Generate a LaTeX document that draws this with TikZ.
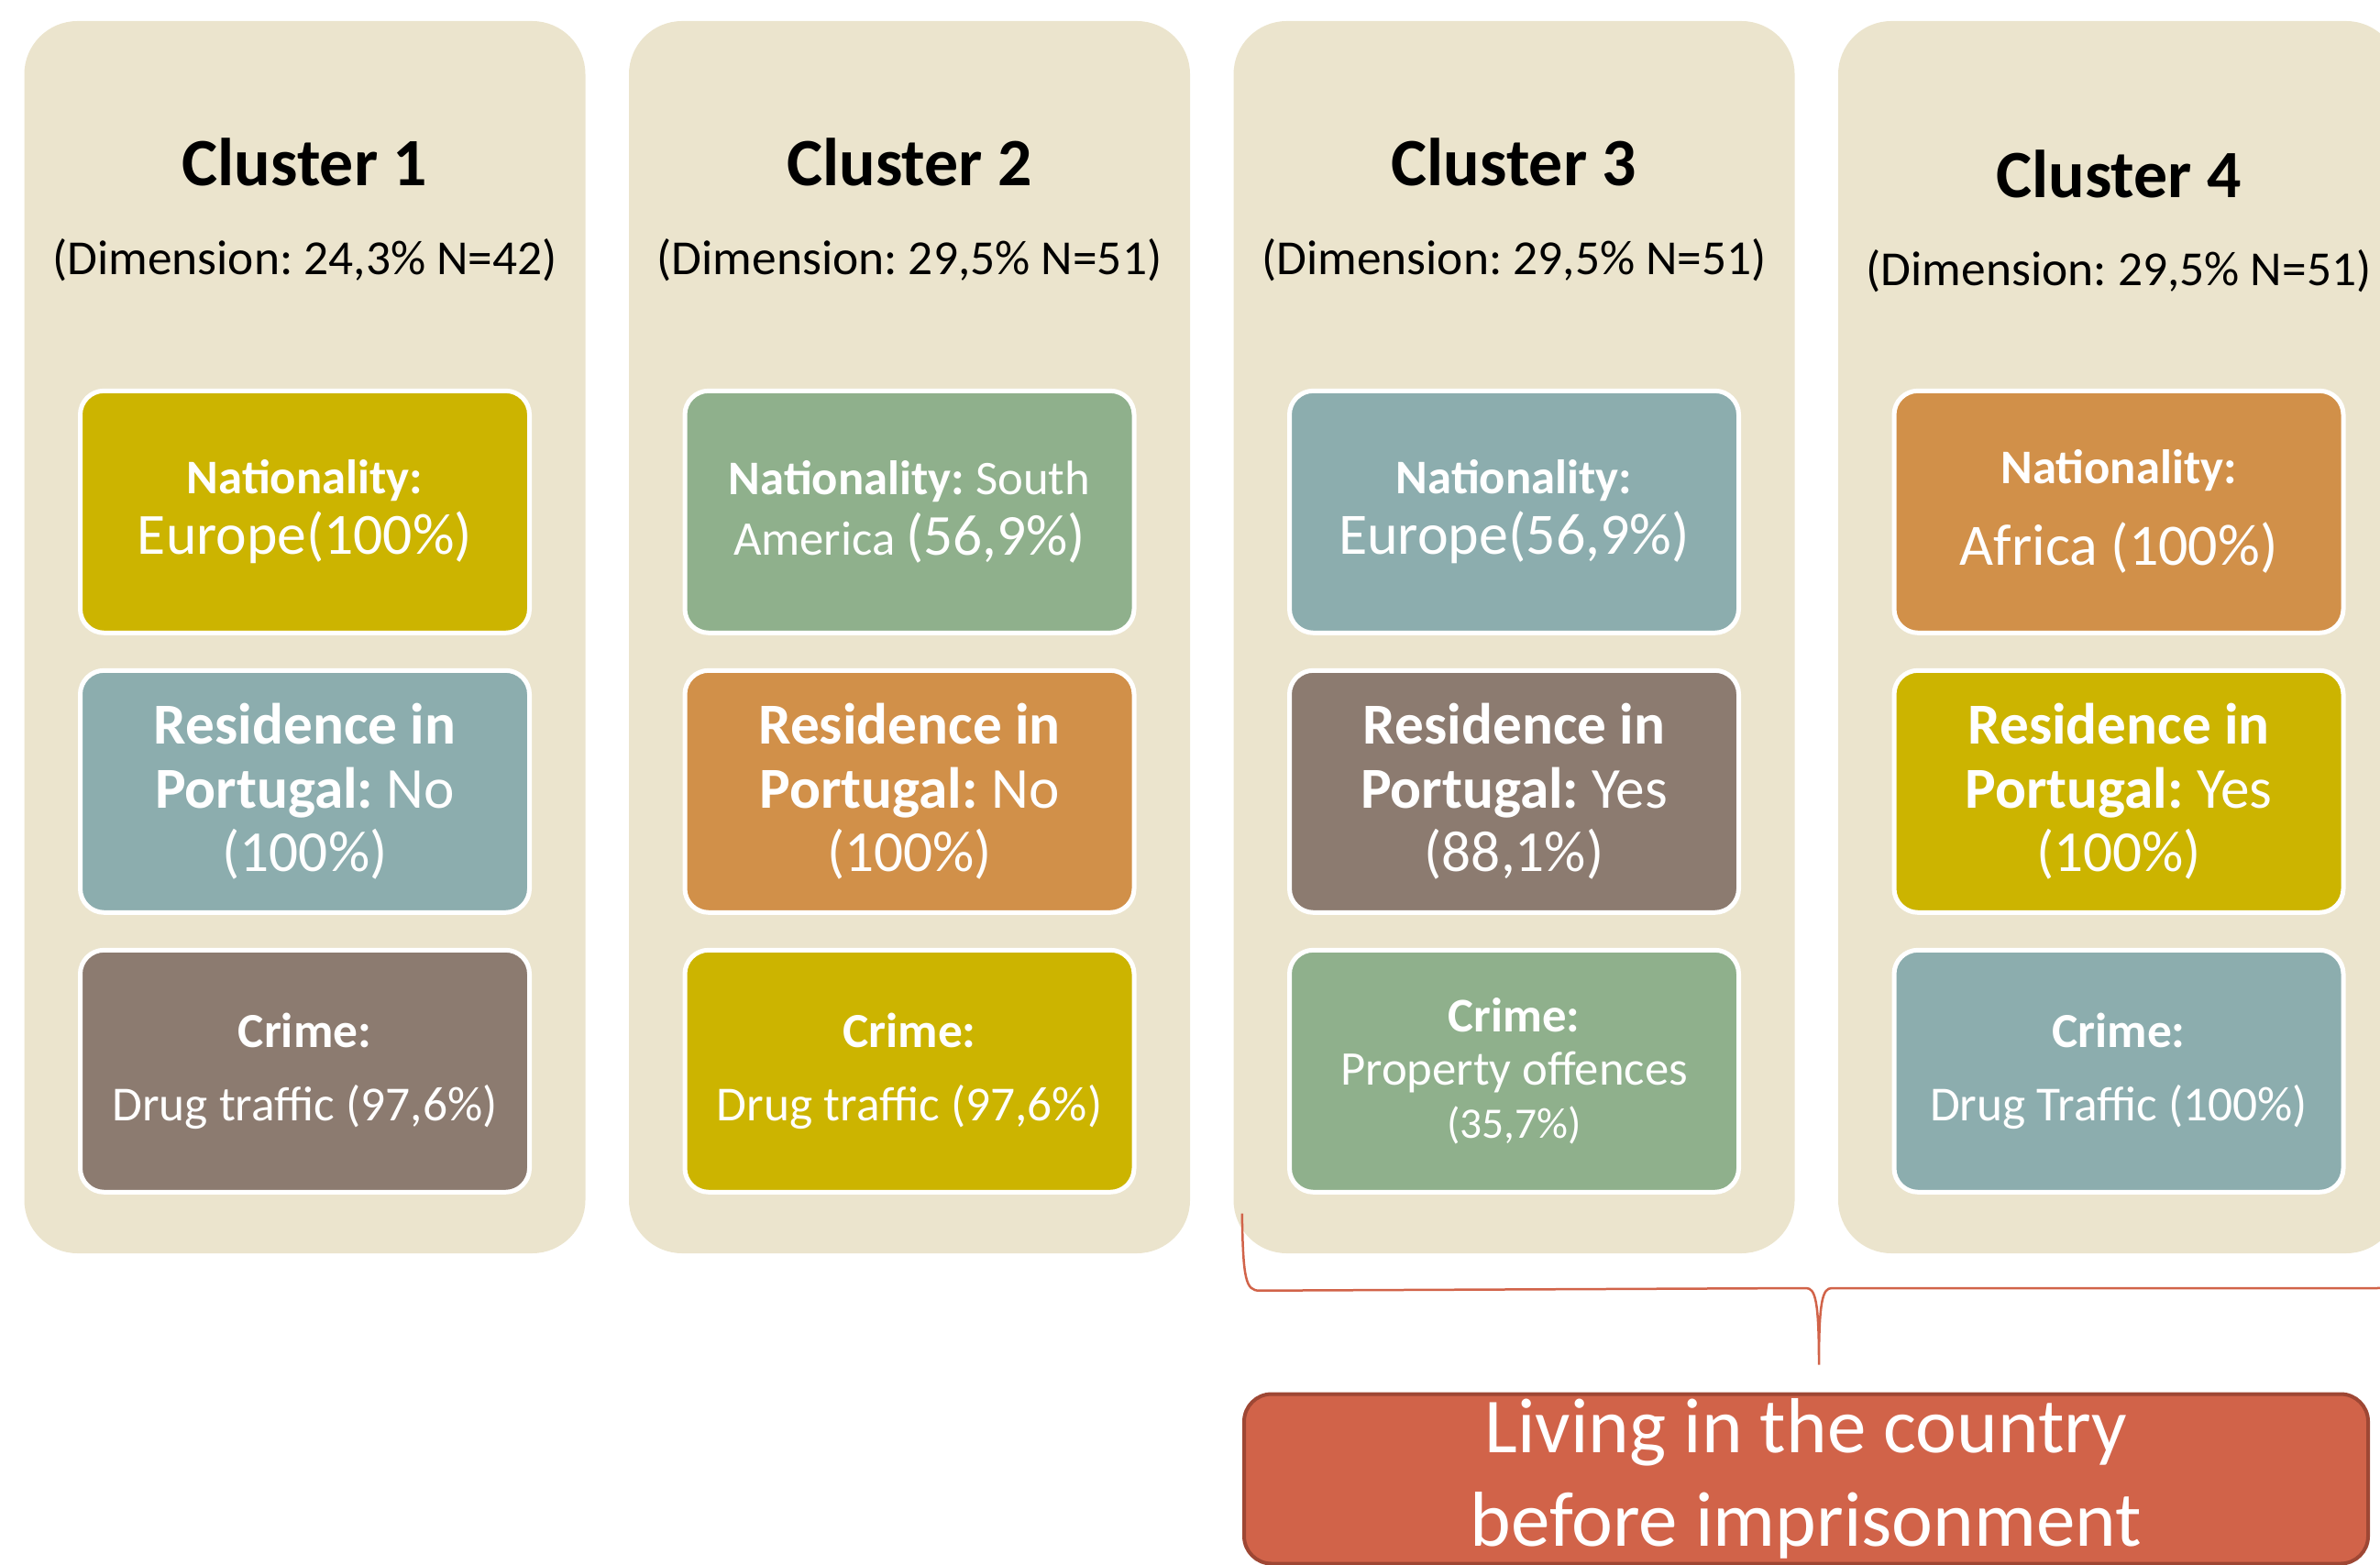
\documentclass[tikz,border=0pt]{standalone}
\usepackage{fontspec}
\setmainfont{Carlito}
\frenchspacing
\usepackage{tikz}
\usetikzlibrary{calc}
\definecolor{paper}{HTML}{EBE4CD}
\definecolor{civicred}{HTML}{D16349}
\definecolor{civicolive}{HTML}{CCB400}
\definecolor{civicblue}{HTML}{8CADAE}
\definecolor{civicbrown}{HTML}{8C7B70}
\definecolor{civicgreen}{HTML}{8FB08C}
\definecolor{civicorange}{HTML}{D19049}
\definecolor{rimred}{HTML}{9E4734}
\tikzstyle{panel}=[fill=paper, rounded corners=0.58cm, minimum width=6.12cm,
  minimum height=13.44cm, inner sep=0pt]
\tikzstyle{title}=[anchor=base, font=\fontsize{21}{25}\selectfont\bfseries]
\tikzstyle{dim}=[anchor=base, font=\fontsize{15.2}{18}\selectfont]
\tikzstyle{facet}=[draw=white, line width=0.05cm, rounded corners=0.26cm,
  minimum width=4.9cm, minimum height=2.64cm, inner sep=0pt, text=white,
  align=center, font=\fontsize{15}{18.8}\selectfont]
\tikzstyle{living}=[fill=civicred, draw=rimred, line width=0.04cm,
  rounded corners=0.3cm, minimum width=12.26cm, minimum height=1.85cm,
  inner sep=0pt, text=white, align=center, font=\fontsize{24.2}{29}\selectfont]
\tikzstyle{brace}=[draw=civicred, line width=0.025cm]
\newcommand{\facetbox}[4]{node (#1)[facet, fill=#2, #3]{#4}}
\newcommand{\sized}[2]{{\fontsize{#1}{#1}\selectfont #2}}

\begin{document}
\begin{tikzpicture}
  \useasboundingbox (0,0) rectangle (25.96,-17.07);
  \clip (0,0) rectangle (25.96,-17.07);

  % Draw the cluster columns
  \node[panel] (c1) at (3.325,-6.95) {};
  \path (c1)+(6.595,0) node[panel] (c2) {};
  \path (c2)+(6.595,0) node[panel] (c3) {};
  \path (c3)+(6.595,0) node[panel] (c4) {};

  \path (c1.north)+(0,-1.80) node[title] (t1) {Cluster 1};
  \path (c2.north)+(0,-1.80) node[title] (t2) {Cluster 2};
  \path (c3.north)+(0,-1.80) node[title] (t3) {Cluster 3};
  \path (c4.north)+(0,-1.93) node[title] (t4) {Cluster 4};
  \path (c1.north)+(0,-2.77) node[dim] (d1) {(Dimension: 24,3\% N=42)};
  \path (c2.north)+(0,-2.77) node[dim] (d2) {(Dimension: 29,5\% N=51)};
  \path (c3.north)+(0,-2.77) node[dim] (d3) {(Dimension: 29,5\% N=51)};
  \path (c4.north)+(0,-2.89) node[dim] (d4) {(Dimension: 29,5\% N=51)};

  % Nationality
  \path (c1.north)+(0,-5.36) \facetbox{n1}{civicolive}{}{\textbf{Nationality:}\\\sized{18.1}{Europe(100\%)}};
  \path (c2.north)+(0,-5.36) \facetbox{n2}{civicgreen}{}{\textbf{Nationality:} South\\America \sized{18}{(56,9\%)}};
  \path (c3.north)+(0,-5.36) \facetbox{n3}{civicblue}{}{\textbf{Nationality:}\\\sized{18.2}{Europe(56,9\%)}};
  \path (c4.north)+(0,-5.36) \facetbox{n4}{civicorange}{font=\fontsize{15}{25.3}\selectfont}{\textbf{Nationality:}\\\sized{18.2}{Africa (100\%)}};

  % Residence in Portugal
  \path (n1)+(0,-3.05) \facetbox{r1}{civicblue}{font=\fontsize{18}{19.8}\selectfont}{\textbf{Residence in}\\\textbf{Portugal:} No\\(100\%)};
  \path (n2)+(0,-3.05) \facetbox{r2}{civicorange}{font=\fontsize{18}{19.8}\selectfont}{\textbf{Residence in}\\\textbf{Portugal:} No\\(100\%)};
  \path (n3)+(0,-3.05) \facetbox{r3}{civicbrown}{font=\fontsize{18}{19.8}\selectfont}{\textbf{Residence in}\\\textbf{Portugal:} Yes\\(88,1\%)};
  \path (n4)+(0,-3.05) \facetbox{r4}{civicolive}{font=\fontsize{18}{19.8}\selectfont}{\textbf{Residence in}\\\textbf{Portugal:} Yes\\(100\%)};

  % Crime
  \path (r1)+(0,-3.05) \facetbox{k1}{civicbrown}{font=\fontsize{15.2}{23}\selectfont}{\textbf{Crime:}\\Drug traffic (97,6\%)};
  \path (r2)+(0,-3.05) \facetbox{k2}{civicolive}{font=\fontsize{15.2}{23}\selectfont}{\textbf{Crime:}\\Drug traffic (97,6\%)};
  \path (r3)+(0,-3.05) \facetbox{k3}{civicgreen}{font=\fontsize{15}{16.5}\selectfont}{\textbf{Crime:}\\Property offences\\\sized{13.5}{(35,7\%)}};
  \path (r4)+(0,-3.05) \facetbox{k4}{civicblue}{font=\fontsize{15.2}{23}\selectfont}{\textbf{Crime:}\\Drug Traffic (100\%)};

  % Clusters 3 and 4 grouped by the brace
  \node[living] (live) at (19.70,-16.13) {Living in the country\\before imprisonment};
  \coordinate (bl) at ($(c3.south west)+(0.1,0.44)$);
  \coordinate (bt) at ($(live.north)+(0.14,0.3)$);
  \coordinate (br) at ($(bt)+(6.28,1.675)$);
  \draw[brace] (bl) .. controls +(0.01,-0.72) and +(-0.15,0) .. ($(bl)+(0.19,-0.84)$)
    -- ($(bt)+(-0.14,0.835)$) .. controls +(0.1,0) and +(0,0.7) .. (bt)
    .. controls +(0,0.7) and +(-0.1,0) .. ($(bt)+(0.14,0.835)$)
    -- ($(br)+(-0.19,-0.84)$) .. controls +(0.15,0) and +(-0.01,-0.72) .. (br);
\end{tikzpicture}
\end{document}
